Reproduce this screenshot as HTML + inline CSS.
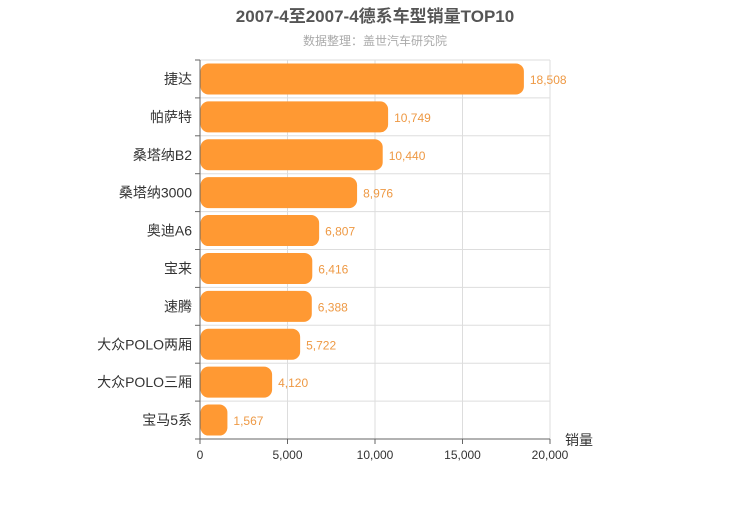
<!DOCTYPE html>
<html><head><meta charset="utf-8"><style>
body{margin:0;background:#fff;font-family:"Liberation Sans","Noto Sans CJK SC",sans-serif}
</style></head><body>
<svg width="750" height="500" id="c" xmlns="http://www.w3.org/2000/svg">
<text x="375" y="22" text-anchor="middle" font-size="17" font-weight="bold" fill="#555" font-family="Liberation Sans, Noto Sans CJK SC, sans-serif">2007-4至2007-4德系车型销量TOP10</text>
<text x="375" y="45" text-anchor="middle" font-size="12" fill="#aaa" font-family="Liberation Sans, Noto Sans CJK SC, sans-serif">数据整理：盖世汽车研究院</text>
<text x="565" y="445" font-size="14" fill="#333" font-family="Liberation Sans, Noto Sans CJK SC, sans-serif">销量</text>
<g id="g"></g>
</svg>
<script>
const categories=["捷达","帕萨特","桑塔纳B2","桑塔纳3000","奥迪A6","宝来","速腾","大众POLO两厢","大众POLO三厢","宝马5系"];
const values=[18508,10749,10440,8976,6807,6416,6388,5722,4120,1567];
const ticks=[0,5000,10000,15000,20000];
const X0=200,X1=550,Y0=60,Y1=439,MAX=20000;
const x=v=>X0+(X1-X0)*v/MAX;
const rh=(Y1-Y0)/categories.length;
const y=i=>Y0+i*rh;
const g=document.getElementById('g');
const NS="http://www.w3.org/2000/svg";
function mk(t,a){const e=document.createElementNS(NS,t);for(const k in a)e.setAttribute(k,a[k]);g.appendChild(e);return e;}
const F="Liberation Sans, Noto Sans CJK SC, sans-serif";
for(let i=0;i<=categories.length;i++){
 const l=mk('line',{x1:X0,x2:X1,y1:y(i),y2:y(i),stroke:'#ddd'});
 
 
 const t=mk('line',{x1:X0-5,x2:X0,y1:y(i),y2:y(i),stroke:'#666'});
 
 
}
ticks.forEach(v=>{
 const l=mk('line',{x1:x(v),x2:x(v),y1:Y0,y2:Y1,stroke:'#ddd'});
 
 
 const tk=mk('line',{x1:x(v),x2:x(v),y1:Y1,y2:Y1+5,stroke:'#666'});
 
 
 const t=mk('text',{x:x(v),y:Y1+20,'text-anchor':'middle','font-size':12,fill:'#333','font-family':F});
 t.textContent=v.toLocaleString('en-US');
 
 
});
const ax=mk('line',{x1:X0,x2:X0,y1:Y0,y2:Y1,stroke:'#666'});


const bx=mk('line',{x1:X0,x2:X1,y1:Y1,y2:Y1,stroke:'#666'});


categories.forEach((c,i)=>{
 const cy=y(i)+rh/2;
 const r=mk('rect',{x:X0+0.5,y:cy-15.5,width:x(values[i])-X0-0.5,height:31,rx:8,fill:'#ff9933'});
 
 
 const v=mk('text',{x:x(values[i])+6,y:cy+5,'font-size':12,fill:'#ee9944','font-family':F});
 v.textContent=values[i].toLocaleString('en-US');
 
 
 const t=mk('text',{x:X0-8,y:cy+5,'text-anchor':'end','font-size':14,fill:'#333','font-family':F});
 t.textContent=c;
 
 
});
</script>
</body></html>
